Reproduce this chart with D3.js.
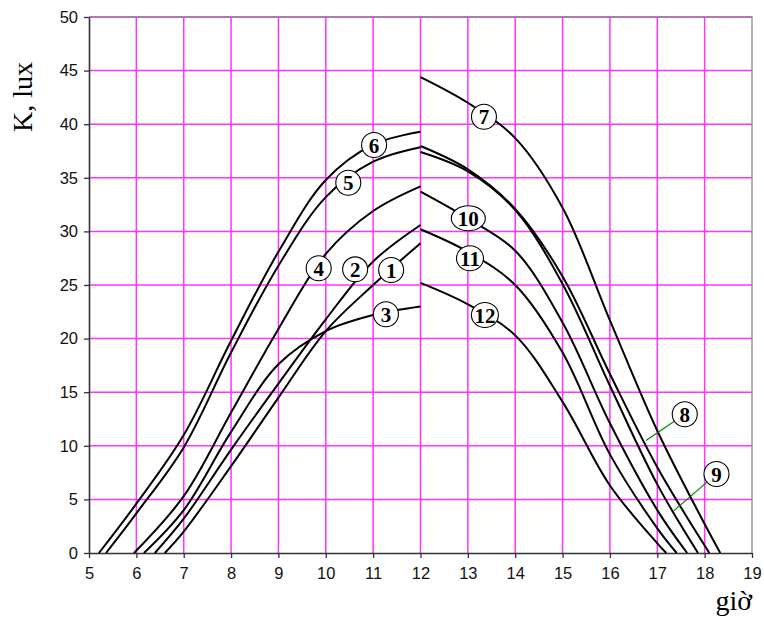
<!DOCTYPE html>
<html><head><meta charset="utf-8">
<script src="https://cdn.jsdelivr.net/npm/d3@7"></script>
<style>body{margin:0;background:#fff}svg{display:block}</style>
</head><body><svg id="c" width="764" height="619"></svg>
<script>
// ---- data ----
const xTicks = [5,6,7,8,9,10,11,12,13,14,15,16,17,18,19];
const yTicks = [0,5,10,15,20,25,30,35,40,45,50];
const xTitle = "giờ";
const yTitle = "K, lux";
const curveIds = ["1","2","3","4","5","6","7","8","9","10","11","12"];
// [hour, K]  (sunrise / sunset point + hourly values)
const curve1 = [[6.6,0],[7,2.0],[8,8.1],[9,14.5],[10,20.7],[11,25.0],[12,28.9]];
const curve2 = [[6.39,0],[7,3.2],[8,9.65],[9,15.8],[10,21.8],[11,27.2],[12,30.6]];
const curve3 = [[6.16,0],[7,4.0],[8,11.3],[9,17.6],[10,20.7],[11,22.2],[12,23.0]];
const curve4 = [[5.95,0],[7,5.3],[8,13.1],[9,20.9],[10,27.9],[11,31.9],[12,34.2]];
const curve5 = [[5.36,0],[6,3.7],[7,9.85],[8,18.7],[9,26.8],[10,33.2],[11,36.5],[12,37.85]];
const curve6 = [[5.21,0],[6,4.6],[7,11.0],[8,19.8],[9,28.1],[10,34.8],[11,38.1],[12,39.3]];
const curve7 = [[12,44.4],[13,42.0],[14,38.7],[15,32.2],[16,21.7],[17,11.4],[18,2.7],[18.33,0]];
const curve8 = [[12,37.97],[13,35.8],[14,32.1],[15,25.8],[16,16.7],[17,8.0],[18.1,0]];
const curve9 = [[12,37.4],[13,35.6],[14,32.0],[15,25.1],[16,15.6],[17,6.4],[17.86,0]];
const curve10 = [[12,33.7],[13,31.2],[14,28.2],[15,21.5],[16,12.1],[17,4.0],[17.63,0]];
const curve11 = [[12,30.2],[13,28.1],[14,25.0],[15,18.7],[16,9.2],[17,2.3],[17.41,0]];
const curve12 = [[12,25.2],[13,23.2],[14,20.3],[15,14.1],[16,6.3],[17,0.9],[17.19,0]];
const curves = [curve1,curve2,curve3,curve4,curve5,curve6,curve7,curve8,curve9,curve10,curve11,curve12];
// label anchors [hour, K] for curve numbers
const labelAt = [[11.38,26.4],[10.62,26.46],[11.27,22.27],[9.85,26.56],[10.475,34.54],[11.02,38.06],[13.34,40.7],[17.58,12.94],[18.25,7.37],[13.01,31.22],[13.045,27.49],[13.36,22.2]];
// leader targets (curve 8 and 9) [hour, K]
const leaderTo = {"8":[16.76,10.5], "9":[17.35,3.95]};

// ---- chart ----
const svg = d3.select("#c");
const x = d3.scaleLinear().domain([5,19]).range([89,752]);
const y = d3.scaleLinear().domain([0,50]).range([553,17]);

svg.append("rect").attr("width",764).attr("height",619).attr("fill","#fff");

const grid = svg.append("g");
grid.selectAll("line.v").data(xTicks.filter(d=>d>5&&d<19)).join("line")
  .attr("x1",d=>x(d)).attr("x2",d=>x(d)).attr("y1",y(0)).attr("y2",y(50))
  .attr("stroke","#ff33ff").attr("stroke-width",1.5);
grid.selectAll("line.h").data(yTicks.filter(d=>d>0)).join("line")
  .attr("y1",d=>y(d)).attr("y2",d=>y(d)).attr("x1",x(5)).attr("x2",x(19))
  .attr("stroke","#ff33ff").attr("stroke-width",1.5);

// plot border (top, right)
svg.append("path").attr("d",`M${x(5)},${y(50)}H${x(19)}V${y(0)}`)
  .attr("fill","none").attr("stroke","#9a7f9a").attr("stroke-width",1.3);

const xAxis = d3.axisBottom(x).tickValues(xTicks).tickFormat(d3.format("d")).tickSize(5).tickSizeOuter(0);
const yAxis = d3.axisLeft(y).tickValues(yTicks).tickFormat(d3.format("d")).tickSize(5).tickSizeOuter(0);
const gx = svg.append("g").attr("transform",`translate(0,${y(0)})`).call(xAxis);
const gy = svg.append("g").attr("transform",`translate(${x(5)},0)`).call(yAxis);
[gx,gy].forEach(g=>{
  g.select(".domain").attr("stroke","#333").attr("stroke-width",1.6);
  g.selectAll(".tick line").attr("stroke","#333").attr("stroke-width",1.3);
  g.selectAll(".tick text").attr("font-family","'Liberation Sans', Arial, sans-serif")
    .attr("font-size",16.5).attr("fill","#111");
});
gx.selectAll(".tick text").attr("y",11).attr("dy","0.9em");
gy.selectAll(".tick text").attr("x",-11);

svg.append("text").attr("x",752).attr("y",610).attr("text-anchor","end")
  .attr("font-family","'Liberation Serif', 'Times New Roman', serif").attr("font-size",28)
  .text(xTitle);
svg.append("text").attr("transform","translate(32,97) rotate(-90)").attr("text-anchor","middle")
  .attr("font-family","'Liberation Serif', 'Times New Roman', serif").attr("font-size",28)
  .text(yTitle);

const line = d3.line().x(d=>x(d[0])).y(d=>y(d[1])).curve(d3.curveCatmullRom.alpha(0.5));
svg.append("g").selectAll("path").data(curves).join("path")
  .attr("d",line).attr("fill","none").attr("stroke","#000").attr("stroke-width",2);

// labels
const rxOf = t => t==="10" ? 17 : (t.length>1 ? 13.5 : 12.5);
const labels = curveIds.map((t,i)=>({t, p:labelAt[i]}));
const lg = svg.append("g");
labels.filter(l=>leaderTo[l.t]).forEach(l=>{
  const cx = x(l.p[0]), cy = y(l.p[1]);
  const tx = x(leaderTo[l.t][0]), ty = y(leaderTo[l.t][1]);
  const a = Math.atan2(ty-cy, tx-cx), r = 12.5;
  lg.append("line").attr("x1",cx+r*Math.cos(a)).attr("y1",cy+r*Math.sin(a))
    .attr("x2",tx).attr("y2",ty).attr("stroke","#008000").attr("stroke-width",1.1);
});
const lb = svg.append("g").selectAll("g").data(labels).join("g")
  .attr("transform",d=>`translate(${x(d.p[0])},${y(d.p[1])})`);
lb.append("ellipse").attr("rx",d=>rxOf(d.t)).attr("ry",12.5)
  .attr("fill","#fff").attr("stroke","#000").attr("stroke-width",1.1);
lb.append("text").text(d=>d.t).attr("text-anchor","middle").attr("dy","0.36em")
  .attr("font-family","'Liberation Serif', 'Times New Roman', serif").attr("font-weight","bold")
  .attr("font-size",21);
</script></body></html>
